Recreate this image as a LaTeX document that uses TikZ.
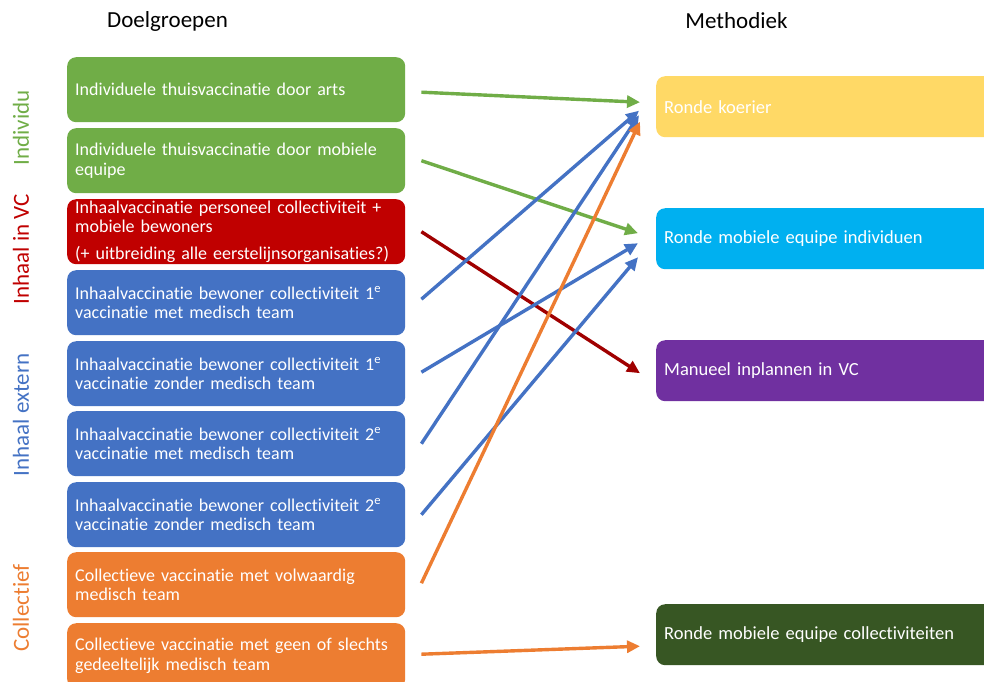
\documentclass[tikz,border=0pt]{standalone}
\usepackage{fontspec}
\setmainfont{Carlito}[Ligatures={NoCommon}]
\usetikzlibrary{arrows.meta,calc}
\definecolor{cgreen}{HTML}{70AD47}
\definecolor{cred}{HTML}{C00000}
\definecolor{cblue}{HTML}{4472C4}
\definecolor{corange}{HTML}{ED7D31}
\definecolor{cyellow}{HTML}{FFD966}
\definecolor{ccyan}{HTML}{00B0F0}
\definecolor{cpurple}{HTML}{7030A0}
\definecolor{cdkgreen}{HTML}{375623}
\definecolor{cmaroon}{HTML}{A00000}
\tikzset{
  lbox/.style={rectangle, rounded corners=9pt, anchor=north west, minimum width=338pt,
    minimum height=65pt, inner xsep=8pt, inner ysep=0pt, text width=322pt, align=left,
    text=white, font=\fontsize{18}{19.5}\selectfont},
  rbox/.style={rectangle, rounded corners=9pt, anchor=north west, minimum width=345pt,
    minimum height=61pt, inner xsep=8pt, text width=329pt, align=left,
    text=white, font=\fontsize{18.5}{20}\selectfont},
  grp/.style={rotate=90, font=\fontsize{23}{26}\selectfont},
  ttl/.style={font=\fontsize{23}{26}\selectfont, text=black},
  arr/.style={line width=3.4pt, -{Triangle[length=13pt,width=12pt]}},
}
\begin{document}
\begin{tikzpicture}[x=1pt,y=-1pt]
\useasboundingbox (0,0) rectangle (984,681);
\clip (0,0) rectangle (984,681);
\fill[white] (0,0) rectangle (984,681);
\node[ttl] (t1) at (167.5,21) {Doelgroepen};
\node[ttl] (t2) at (736.5,21) {Methodiek};
\node[grp, text=cgreen] (g1) at (21,128) {Individu};
\node[grp, text=cred] (g2) at (21,249) {Inhaal in VC};
\node[grp, text=cblue] (g3) at (21,415) {Inhaal extern};
\node[grp, text=corange] (g4) at (21,608) {Collectief};
% left boxes
\node[lbox, fill=cgreen] (b1) at (67,57) {Individuele thuisvaccinatie door arts};
\node[lbox, fill=cgreen] (b2) at (67,128) {Individuele thuisvaccinatie door mobiele\\equipe};
\node[lbox, fill=cred] (b3) at (67,199) {Inhaalvaccinatie personeel collectiviteit +\\mobiele bewoners\\[7pt](+ uitbreiding alle eerstelijnsorganisaties?)};
\node[lbox, fill=cblue] (b4) at (67,270) {Inhaalvaccinatie bewoner collectiviteit 1\textsuperscript{e}\\vaccinatie met medisch team};
\node[lbox, fill=cblue] (b5) at (67,341) {Inhaalvaccinatie bewoner collectiviteit 1\textsuperscript{e}\\vaccinatie zonder medisch team};
\node[lbox, fill=cblue] (b6) at (67,411) {Inhaalvaccinatie bewoner collectiviteit 2\textsuperscript{e}\\vaccinatie met medisch team};
\node[lbox, fill=cblue] (b7) at (67,482) {Inhaalvaccinatie bewoner collectiviteit 2\textsuperscript{e}\\vaccinatie zonder medisch team};
\node[lbox, fill=corange] (b8) at (67,552) {Collectieve vaccinatie met volwaardig\\medisch team};
\node[lbox, fill=corange] (b9) at (67,623) {Collectieve vaccinatie met geen of slechts\\gedeeltelijk medisch team};
% right boxes
\node[rbox, fill=cyellow] (r1) at (656,76) {Ronde koerier};
\node[rbox, fill=ccyan] (r2) at (656,208) {Ronde mobiele equipe individuen};
\node[rbox, fill=cpurple] (r3) at (656,340) {Manueel inplannen in VC};
\node[rbox, fill=cdkgreen] (r4) at (656,604) {Ronde mobiele equipe collectiviteiten};
% arrows
\draw[arr, cgreen] ($(b1.east)+(16,2.5)$) -- ($(r1.west)+(-16,-4.5)$);
\draw[arr, cgreen] ($(b2.east)+(16,0)$) -- ($(r2.west)+(-18,-5.5)$);
\draw[arr, cmaroon] ($(b3.east)+(16,0)$) -- ($(r3.west)+(-16,2.5)$);
\draw[arr, cblue] ($(b4.east)+(16,-3.5)$) -- ($(r1.west)+(-17,4)$);
\draw[arr, cblue] ($(b5.east)+(16,-1.5)$) -- ($(r2.west)+(-18,4.5)$);
\draw[arr, cblue] ($(b6.east)+(16,0)$) -- ($(r1.west)+(-17,8.5)$);
\draw[arr, cblue] ($(b7.east)+(16,0)$) -- ($(r2.west)+(-18,18.5)$);
\draw[arr, corange] ($(b8.east)+(16,-1.5)$) -- ($(r1.west)+(-16,15)$);
\draw[arr, corange] ($(b9.east)+(16,-1.5)$) -- ($(r4.west)+(-16,11.5)$);
\end{tikzpicture}
\end{document}
